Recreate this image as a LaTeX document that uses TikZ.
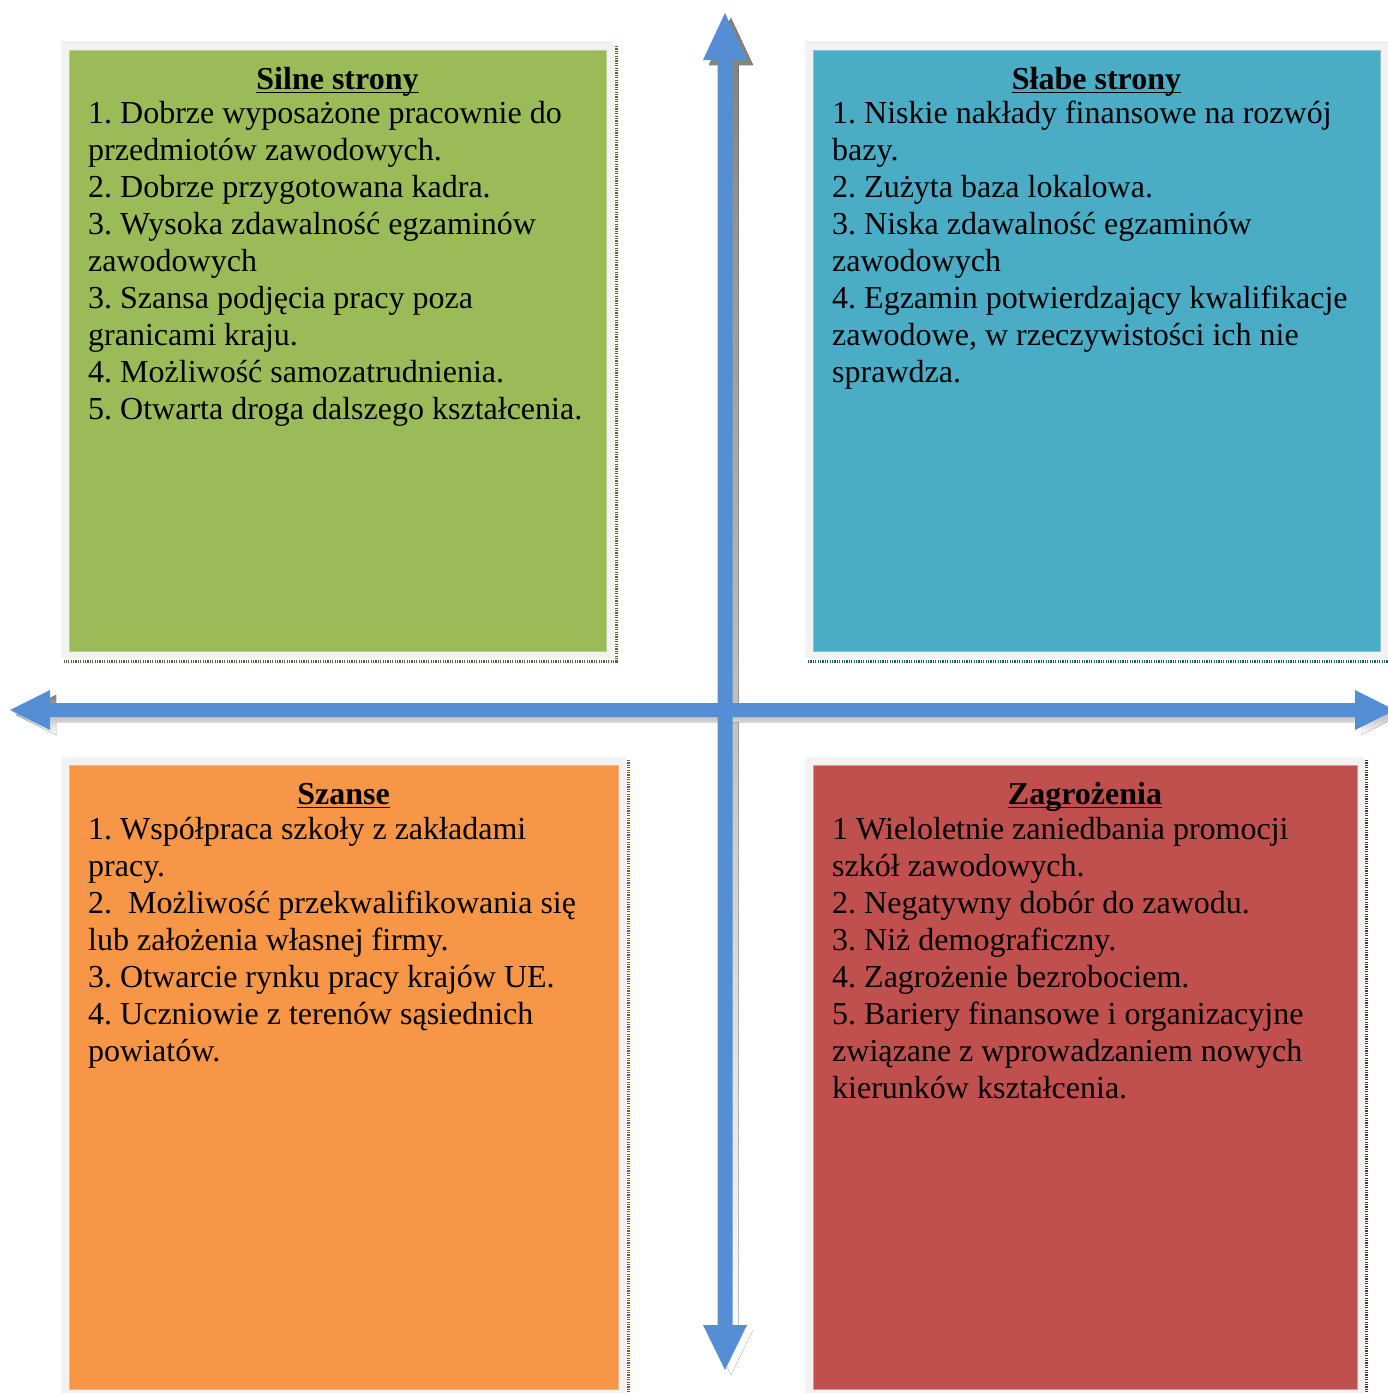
\documentclass[tikz,border=0pt]{standalone}
\usepackage{fontspec}
\setmainfont{Liberation Serif}
\frenchspacing
\definecolor{cgreen}{HTML}{9BBB59}
\definecolor{cblue}{HTML}{4BACC6}
\definecolor{corange}{HTML}{F79646}
\definecolor{cred}{HTML}{C0504D}
\definecolor{frame}{HTML}{F2F2F2}
\definecolor{arrowblue}{HTML}{558ED5}
\definecolor{shade}{HTML}{808080}
\tikzset{
  txt/.style={anchor=base west, inner sep=0pt, font=\fontsize{32}{37}\selectfont},
  ttl/.style={anchor=base, inner sep=0pt, font=\fontsize{32}{37}\selectfont\bfseries},
  uline/.style={line width=1.8pt},
  dotshadow/.style={line width=3pt, dash pattern=on 1.2pt off 1.2pt},
  innerbox/.style={line width=0.8pt}
}
\begin{document}
\begin{tikzpicture}[x=1pt,y=-1pt]
\useasboundingbox (0,0) rectangle (1388,1393);
\clip (0,0) rectangle (1388,1393);
\fill[white] (0,0) rectangle (1388,1393);
% boxes
\fill[frame] (61,41) rectangle (614,658);
\filldraw[fill=cgreen, draw=cgreen!70!white, innerbox] (69,50) rectangle (606,651);
\draw[dotshadow, cgreen!55!black] (616,46) -- (616,661) -- (64,661);
\fill[frame] (805,41) rectangle (1388,658);
\filldraw[fill=cblue, draw=cblue!70!white, innerbox] (813,50) rectangle (1380,651);
\draw[dotshadow, cblue!55!black] (808,661) -- (1388,661);
\fill[frame] (61,757) rectangle (626,1393);
\filldraw[fill=corange, draw=corange!70!white, innerbox] (69,765) rectangle (618,1389);
\draw[dotshadow, corange!55!black] (628,760) -- (628,1393);
\fill[frame] (805,757) rectangle (1364,1393);
\filldraw[fill=cred, draw=cred!60!white, innerbox] (813,765) rectangle (1357,1389);
\draw[dotshadow, cred!55!black] (1366,760) -- (1366,1393);
% arrows: shadows
\begin{scope}[shift={(6,5)}]
\fill[shade] (725,13) -- (747,60) -- (732.5,60) -- (732.5,1325) -- (747,1325) -- (725,1370) -- (703,1325) -- (717.5,1325) -- (717.5,60) -- (703,60) -- cycle;
\fill[shade] (10,710) -- (50,690) -- (50,703) -- (1355,703) -- (1355,690) -- (1395,710) -- (1355,730) -- (1355,717) -- (50,717) -- (50,730) -- cycle;
\end{scope}
\fill[arrowblue] (725,13) -- (747,60) -- (732.5,60) -- (732.5,1325) -- (747,1325) -- (725,1370) -- (703,1325) -- (717.5,1325) -- (717.5,60) -- (703,60) -- cycle;
\fill[arrowblue] (10,710) -- (50,690) -- (50,703) -- (1355,703) -- (1355,690) -- (1395,710) -- (1355,730) -- (1355,717) -- (50,717) -- (50,730) -- cycle;
% titles
\node[ttl] (tg) at (337.5,89) {Silne strony};
\node[ttl] (tb) at (1096.5,89) {Słabe strony};
\node[ttl] (to) at (343.5,804) {Szanse};
\node[ttl] (tr) at (1085,804) {Zagrożenia};
\foreach \n in {tg,tb,to,tr}
  \draw[uline] ([yshift=-3.5pt]\n.base west) -- ([yshift=-3.5pt]\n.base east);
% texts
\foreach \t [count=\i] in {{1. Dobrze wyposażone pracownie do},{przedmiotów zawodowych.},{2. Dobrze przygotowana kadra.},{3. Wysoka zdawalność egzaminów},{zawodowych},{3. Szansa podjęcia pracy poza},{granicami kraju.},{4. Możliwość samozatrudnienia.},{5. Otwarta droga dalszego kształcenia.}}
  \node[txt] (g\i) at (88,{123+(\i-1)*37.1}) {\t};
\foreach \t [count=\i] in {{1. Niskie nakłady finansowe na rozwój},{bazy.},{2. Zużyta baza lokalowa.},{3. Niska zdawalność egzaminów},{zawodowych},{4. Egzamin potwierdzający kwalifikacje},{zawodowe, w rzeczywistości ich nie},{sprawdza.}}
  \node[txt] (b\i) at (832,{123+(\i-1)*37.1}) {\t};
\foreach \t [count=\i] in {{1. Współpraca szkoły z zakładami},{pracy.},{2.\ \ Możliwość przekwalifikowania się},{lub założenia własnej firmy.},{3. Otwarcie rynku pracy krajów UE.},{4. Uczniowie z terenów sąsiednich},{powiatów.}}
  \node[txt] (o\i) at (88,{839+(\i-1)*37.1}) {\t};
\foreach \t [count=\i] in {{1 Wieloletnie zaniedbania promocji},{szkół zawodowych.},{2. Negatywny dobór do zawodu.},{3. Niż demograficzny.},{4. Zagrożenie bezrobociem.},{5. Bariery finansowe i organizacyjne},{związane z wprowadzaniem nowych},{kierunków kształcenia.}}
  \node[txt] (r\i) at (832,{839+(\i-1)*37.1}) {\t};
\end{tikzpicture}
\end{document}
